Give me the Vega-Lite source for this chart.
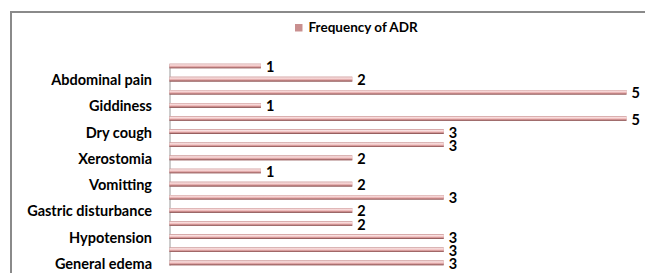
{
  "$schema": "https://vega.github.io/schema/vega-lite/v6.json",
  "autosize": "none",
  "width": 645,
  "height": 305,
  "padding": {"left": 11, "top": 12, "right": 0, "bottom": 0},
  "background": "white",
  "config": {
    "view": {"stroke": "#8a8a8a", "strokeWidth": 2},
    "font": "Lato"
  },
  "datasets": {
    "adr": [
      {"row": 1, "label": "", "freq": 1, "series": "Frequency of ADR"},
      {"row": 2, "label": "Abdominal pain", "freq": 2, "series": "Frequency of ADR"},
      {"row": 3, "label": "", "freq": 5, "series": "Frequency of ADR"},
      {"row": 4, "label": "Giddiness", "freq": 1, "series": "Frequency of ADR"},
      {"row": 5, "label": "", "freq": 5, "series": "Frequency of ADR"},
      {"row": 6, "label": "Dry cough", "freq": 3, "series": "Frequency of ADR"},
      {"row": 7, "label": "", "freq": 3, "series": "Frequency of ADR"},
      {"row": 8, "label": "Xerostomia", "freq": 2, "series": "Frequency of ADR"},
      {"row": 9, "label": "", "freq": 1, "series": "Frequency of ADR"},
      {"row": 10, "label": "Vomitting", "freq": 2, "series": "Frequency of ADR"},
      {"row": 11, "label": "", "freq": 3, "series": "Frequency of ADR"},
      {"row": 12, "label": "Gastric disturbance", "freq": 2, "series": "Frequency of ADR"},
      {"row": 13, "label": "", "freq": 2, "series": "Frequency of ADR"},
      {"row": 14, "label": "Hypotension", "freq": 3, "series": "Frequency of ADR"},
      {"row": 15, "label": "", "freq": 3, "series": "Frequency of ADR"},
      {"row": 16, "label": "General edema", "freq": 3, "series": "Frequency of ADR"}
    ]
  },
  "data": {"name": "adr"},
  "layer": [
    {
      "mark": {"type": "bar"},
      "encoding": {
        "y": {
          "field": "row",
          "type": "ordinal",
          "scale": {"range": [51.7, 253.2], "paddingInner": 0.65, "paddingOuter": 0},
          "axis": {
            "title": null,
            "offset": -158.5,
            "domainColor": "#9a9a9a",
            "domainWidth": 1,
            "ticks": false,
            "labelPadding": 18,
            "labelOffset": 2,
            "labelFont": "Lato",
            "labelFontWeight": "bold",
            "labelFontSize": 14.5,
            "labelColor": "#000000",
            "labelExpr": "length(data('adr')) >= datum.value ? data('adr')[datum.value - 1].label : ''"
          }
        },
        "x": {
          "field": "freq",
          "type": "quantitative",
          "axis": null,
          "scale": {"domain": [-1.734, 5.323], "nice": false}
        },
        "color": {
          "field": "series",
          "type": "nominal",
          "scale": {"range": ["#c98f8f"]},
          "legend": {
            "title": null,
            "orient": "none",
            "legendX": 281,
            "legendY": 9,
            "symbolType": "square",
            "symbolSize": 56,
            "symbolStrokeWidth": 0,
            "labelFont": "Lato",
            "labelFontWeight": "bold",
            "labelFontSize": 13.5,
            "labelColor": "#000000",
            "labelOffset": 3
          }
        }
      }
    },
    {
      "mark": {
        "type": "bar",
        "color": {
          "gradient": "linear",
          "x1": 0, "y1": 0, "x2": 0, "y2": 1,
          "stops": [
            {"offset": 0, "color": "#d2a2a2"},
            {"offset": 0.25, "color": "#f9e0e0"},
            {"offset": 0.5, "color": "#f2c2c2"},
            {"offset": 0.75, "color": "#c98a8a"},
            {"offset": 1, "color": "#7a4646"}
          ]
        }
      },
      "encoding": {
        "y": {"field": "row", "type": "ordinal"},
        "x": {"field": "freq", "type": "quantitative"}
      }
    },
    {
      "mark": {
        "type": "text",
        "align": "left",
        "baseline": "middle",
        "dx": 5,
        "dy": 2,
        "fontSize": 14.5,
        "fontWeight": "bold",
        "font": "Lato",
        "color": "#000000"
      },
      "encoding": {
        "y": {"field": "row", "type": "ordinal"},
        "x": {"field": "freq", "type": "quantitative"},
        "text": {"field": "freq", "type": "quantitative"}
      }
    }
  ]
}
